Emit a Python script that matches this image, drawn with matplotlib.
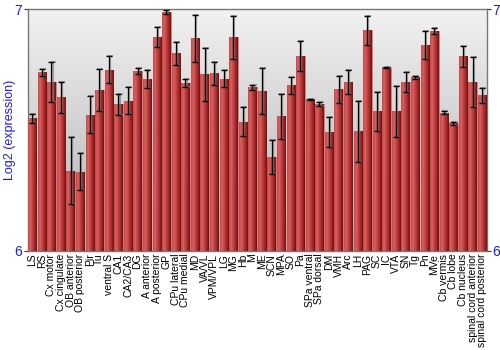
import matplotlib
matplotlib.use("Agg")
import matplotlib.pyplot as plt
import numpy as np
from matplotlib.colors import LinearSegmentedColormap

regions = [
    "LS", "RS", "Cx motor", "Cx cingulate", "OB anterior", "OB posterior",
    "Pir", "Tu", "ventral S", "CA1", "CA2/CA3", "DG", "A anterior",
    "A posterior", "GP", "CPu lateral", "CPu medial", "MD", "VA/VL",
    "VPM/VPL", "LG", "MG", "Hb", "M", "ME", "SCN", "MPA", "SO", "Pa",
    "SPa ventral", "SPa dorsal", "DM", "VMH", "Arc", "LH", "PAG", "SC",
    "IC", "VTA", "SN", "Tg", "Pn", "MVe", "Cb vermis", "Cb lobe",
    "Cb nucleus", "spinal cord anterior", "spinal cord posterior",
]
expression = [
    6.548, 6.739, 6.697, 6.635, 6.332, 6.328, 6.564, 6.664, 6.750, 6.606,
    6.622, 6.743, 6.710, 6.884, 6.988, 6.817, 6.693, 6.880, 6.730, 6.734,
    6.713, 6.884, 6.535, 6.676, 6.660, 6.390, 6.556, 6.685, 6.805, 6.627,
    6.606, 6.490, 6.668, 6.700, 6.494, 6.913, 6.577, 6.759, 6.577, 6.697,
    6.718, 6.850, 6.909, 6.571, 6.527, 6.805, 6.700, 6.643,
]
error = [
    0.017, 0.015, 0.083, 0.064, 0.139, 0.075, 0.075, 0.087, 0.056, 0.042,
    0.054, 0.012, 0.037, 0.041, 0.010, 0.048, 0.017, 0.097, 0.108, 0.048,
    0.035, 0.089, 0.060, 0.010, 0.095, 0.070, 0.093, 0.035, 0.062, 0.003,
    0.008, 0.062, 0.056, 0.050, 0.126, 0.060, 0.079, 0.003, 0.104, 0.041,
    0.006, 0.058, 0.011, 0.006, 0.005, 0.044, 0.104, 0.030,
]

BLUE = "#1a1aff"
plt.rcParams["font.family"] = ["Liberation Sans", "DejaVu Sans"]

fig = plt.figure(figsize=(5, 3.5), dpi=100)
ax = fig.add_axes([0.055, 0.283, 0.919, 0.691])

x = np.arange(len(regions))
ax.set_xlim(-0.5, len(regions) - 0.5)
ax.set_ylim(6, 7)

# background gradient, light at top
bg = LinearSegmentedColormap.from_list("bg", ["#b0b0b0", "#f2f2f2"])
ax.imshow(np.linspace(0, 1, 256).reshape(-1, 1), cmap=bg, aspect="auto",
          extent=(-0.5, len(regions) - 0.5, 6, 7), origin="lower", zorder=0)

bars = ax.bar(x, np.array(expression) - 6, bottom=6, width=0.88,
              color="#b03030", edgecolor="#e08080", linewidth=0.4, zorder=2)

# cylinder shading on each bar
shade = LinearSegmentedColormap.from_list(
    "shade", ["#c84848", "#d86060", "#c04040", "#a02828", "#701010"])
grad = np.linspace(0, 1, 64).reshape(1, -1)
for b in bars:
    x0, y0 = b.get_x(), b.get_y()
    im = ax.imshow(grad, cmap=shade, aspect="auto", zorder=3,
                   extent=(x0, x0 + b.get_width(), y0, y0 + b.get_height()))
    im.set_clip_path(b)

# faint shadow of the error bars, then the bars themselves
ax.errorbar(x + 0.12, expression, yerr=error, fmt="none", ecolor="#777777",
            elinewidth=1.6, capsize=2, capthick=1.4, alpha=0.6, zorder=4)
ax.errorbar(x, expression, yerr=error, fmt="none", ecolor="black",
            elinewidth=0.9, capsize=2, capthick=1.0, zorder=5)

ax.set_yticks([6, 7])
ax.set_yticklabels(["6", "7"])
ax.tick_params(axis="y", colors="#333333", labelcolor=BLUE, labelsize=10,
               length=3, pad=1, labelright=True, right=True)
ax.set_xticks(x)
ax.set_xticklabels(regions, rotation=90, fontsize=7.5)
ax.tick_params(axis="x", length=0, pad=2)
ax.set_ylabel("Log2 (expression)", color=BLUE, fontsize=9, labelpad=-1)

for side in ("left", "right", "top", "bottom"):
    ax.spines[side].set_color("#777777")
    ax.spines[side].set_linewidth(1.0)

fig.savefig("out.png", dpi=100)
